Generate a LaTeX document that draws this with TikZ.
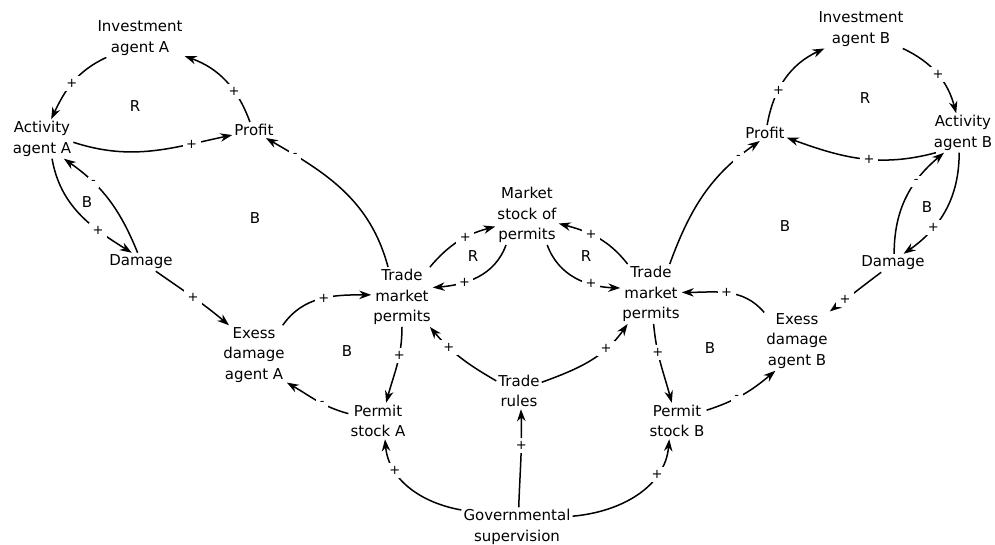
\documentclass[tikz,border=0pt]{standalone}
\usepackage{fontspec}
\setmainfont{DejaVu Sans}
\usetikzlibrary{arrows.meta}

\tikzset{
  var/.style={align=center, inner sep=2pt, font=\fontsize{15}{20.5}\selectfont},
  lbl/.style={font=\fontsize{15}{15}\selectfont},
  sgn/.style={fill=white, inner sep=3.5pt, font=\fontsize{13}{13}\selectfont},
  lnk/.style={-{Stealth[length=12pt,width=8.5pt]}, line width=1.5pt}
}

\begin{document}
\begin{tikzpicture}[x=1pt,y=1pt]
  \useasboundingbox (0,0) rectangle (995,-545);

  % agent A side
  \node[var] (inva) at (140,-38) {Investment\\agent A};
  \node[var] (acta) at (42,-139) {Activity\\agent A};
  \node[var] (profa) at (254,-130) {Profit};
  \node[var] (dama) at (141,-262) {Damage};
  \node[var] (exa) at (254,-355) {Exess\\damage\\agent A};
  \node[var] (tmpa) at (402,-297) {Trade\\market\\permits};
  \node[var] (psa) at (378,-421) {Permit\\stock A};

  % market in the middle
  \node[var] (msp) at (527,-215) {Market\\stock of\\permits};
  \node[var] (trules) at (519,-391) {Trade\\rules};
  \node[var] (gov) at (517,-527) {Governmental\\supervision};

  % agent B side
  \node[var] (tmpb) at (651,-294) {Trade\\market\\permits};
  \node[var] (psb) at (677,-421) {Permit\\stock B};
  \node[var] (exb) at (797,-341) {Exess\\damage\\agent B};
  \node[var] (damb) at (893,-263) {Damage};
  \node[var] (actb) at (963,-133) {Activity\\agent B};
  \node[var] (profb) at (765,-133) {Profit};
  \node[var] (invb) at (861,-29) {Investment\\agent B};

  % loop labels
  \node[lbl] (ra) at (135,-106) {R};
  \node[lbl] (bas) at (87,-202) {B};
  \node[lbl] (bab) at (255,-218) {B};
  \node[lbl] (bal) at (347,-351) {B};
  \node[lbl] (rml) at (473,-256) {R};
  \node[lbl] (rmr) at (586,-256) {R};
  \node[lbl] (bbl) at (710,-348) {B};
  \node[lbl] (bbb) at (785,-226) {B};
  \node[lbl] (bbs) at (927,-207) {B};
  \node[lbl] (rb) at (865,-98) {R};

  % links of agent A
  \draw[lnk] (inva.210) to[out=205,in=65] node[sgn,pos=.52]{+} (acta.65);
  \draw[lnk] (profa.117) to[out=110,in=-20] node[sgn,pos=.35]{+} (inva.338);
  \draw[lnk] (acta.354) to[out=-18,in=192] node[sgn,pos=.76]{+} (profa.193);
  \draw[lnk] (acta.297) to[out=-80,in=148] node[sgn,pos=.7]{+} (dama.135);
  \draw[lnk] (dama.110) to[out=112,in=-35] node[sgn,pos=.7]{-} (acta.318);
  \draw[lnk] (tmpa.115) to[out=105,in=-30] node[sgn,pos=.83]{-} (profa.326);
  \draw[lnk] (dama.328) to[out=-35,in=140] node[sgn,pos=.5]{+} (exa.130);
  \draw[lnk] (exa.46) to[out=55,in=180] node[sgn,pos=.53]{+} (tmpa.176);
  \draw[lnk] (tmpa.270) to[out=-90,in=75] node[sgn,pos=.36]{+} (psa.66);
  \draw[lnk] (psa.166) to[out=165,in=-30] node[sgn,pos=.4]{-} (exa.320);

  % links of the market
  \draw[lnk] (tmpa.47) to[out=50,in=195] node[sgn,pos=.6]{+} (msp.200);
  \draw[lnk] (msp.235) to[out=250,in=5] node[sgn,pos=.66]{+} (tmpa.17);
  \draw[lnk] (msp.304) to[out=-70,in=178] node[sgn,pos=.69]{+} (tmpb.169);
  \draw[lnk] (tmpb.128) to[out=128,in=-15] node[sgn,pos=.59]{+} (msp.345);
  \draw[lnk] (trules.156) to[out=150,in=-50] node[sgn,pos=.69]{+} (tmpa.313);
  \draw[lnk] (trules.21) to[out=20,in=235] node[sgn,pos=.7]{+} (tmpb.232);
  \draw[lnk] (gov.85) to[out=88,in=-88] node[sgn,pos=.64]{+} (trules.276);
  \draw[lnk] (gov.163) to[out=170,in=-85] node[sgn,pos=.71]{+} (psa.291);
  \draw[lnk] (gov.11) to[out=5,in=-95] node[sgn,pos=.72]{+} (psb.247);

  % links of agent B
  \draw[lnk] (psb.20) to[out=18,in=220] node[sgn,pos=.4]{-} (exb.234);
  \draw[lnk] (tmpb.275) to[out=-85,in=105] node[sgn,pos=.34]{+} (psb.106);
  \draw[lnk] (exb.139) to[out=130,in=0] node[sgn,pos=.51]{+} (tmpb.3);
  \draw[lnk] (damb.218) to[out=217,in=37] node[sgn,pos=.72]{+} (exb.42);
  \draw[lnk] (actb.216) to[out=195,in=-20] node[sgn,pos=.44]{+} (profb.348);
  \draw[lnk] (profb.75) to[out=80,in=205] node[sgn,pos=.36]{+} (invb.208);
  \draw[lnk] (invb.335) to[out=-25,in=105] node[sgn,pos=.51]{+} (actb.109);
  \draw[lnk] (actb.259) to[out=-90,in=35] node[sgn,pos=.68]{+} (damb.41);
  \draw[lnk] (damb.83) to[out=90,in=220] node[sgn,pos=.67]{-} (actb.226);
  \draw[lnk] (tmpb.58) to[out=70,in=215] node[sgn,pos=.84]{-} (profb.237);
\end{tikzpicture}
\end{document}
